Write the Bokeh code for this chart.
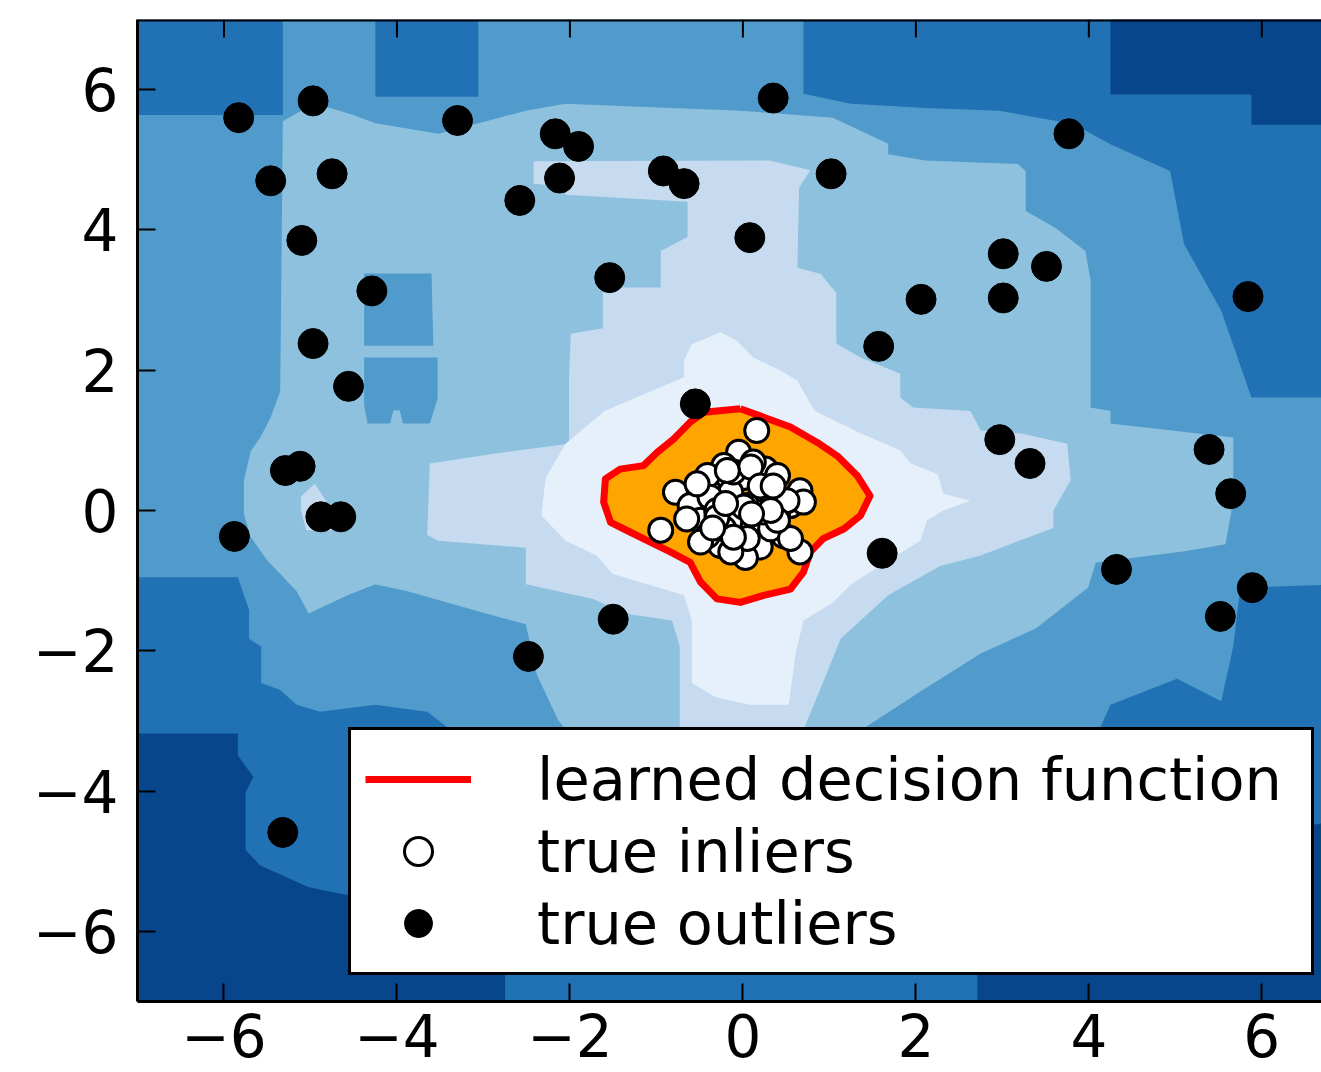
from bokeh.plotting import figure
from bokeh.models import (Range1d, FixedTicker, Legend, LegendItem, ColumnDataSource, Span)
from bokeh.embed import file_html
from bokeh.resources import INLINE

# ---------------- axis ticks ----------------
tick_values = [-6, -4, -2, 0, 2, 4, 6]
tick_labels = ["\u22126", "\u22124", "\u22122", "0", "2", "4", "6"]

# ---------------- colours ----------------
# six anomaly-score bands (Blues_r): 0 = most abnormal (darkest) ... 5 = most normal
band_colors = ["#08468c", "#2171b5", "#509bcb", "#8dc1dd", "#c6dbef", "#e6f0fa"]
inlier_region_color = "#ffa500"
decision_line_color = "#ff0000"

# ---------------- observations ----------------
outliers_x = [-5.83, -4.97, -3.30, 0.35, -2.17, -1.90, -5.46, -4.75, -2.58, -2.12,
              -0.92, -0.68, 1.02, 3.77, -5.10, 0.08, -1.54, -4.29, 3.01, 3.51,
              2.06, 3.01, 5.84, -4.97, 1.57, -4.56, -0.55, 2.97, 3.32, 5.39,
              5.64, -5.29, -5.12, -4.88, -4.65, -5.88, 1.61, 4.32, 5.89, 5.52,
              -1.50, -2.48, -5.32]
outliers_y = [5.60, 5.84, 5.56, 5.88, 5.37, 5.19, 4.70, 4.80, 4.42, 4.74,
              4.84, 4.66, 4.80, 5.37, 3.85, 3.89, 3.32, 3.13, 3.66, 3.48,
              3.01, 3.03, 3.05, 2.38, 2.34, 1.77, 1.52, 1.01, 0.67, 0.87,
              0.24, 0.57, 0.63, -0.09, -0.09, -0.37, -0.61, -0.84, -1.10, -1.51,
              -1.55, -2.08, -4.59]

inliers_x = [0.16, -0.05, 0.26, -0.30, 0.01, -0.78, -0.14, 0.26, 0.66, -0.61,
             -0.34, 0.55, -0.49, -0.07, 0.12, -0.95, 0.47, -0.26, 0.20, 0.66,
             0.03, -0.41, 0.05, 0.40, -0.22, 0.12, -0.41, 0.05, 0.40, -0.49,
             -0.14, 0.32, -0.30, 0.24, -0.22, 0.70, 0.55, -0.65, -0.41, -0.11,
             0.09, -0.38, 0.51, -0.30, 0.01, 0.40, -0.30, -0.11, 0.32, -0.18,
             -0.53, 0.20, -0.20, 0.10, 0.35, -0.35]
inliers_y = [1.14, 0.83, 0.59, 0.50, 0.47, 0.26, 0.26, 0.21, 0.28, 0.07,
             0.12, 0.07, -0.14, -0.17, -0.21, -0.28, -0.36, -0.50, -0.52, -0.59,
             -0.67, -0.36, -0.40, -0.07, 0.64, 0.69, 0.31, 0.07, 0.50, -0.45,
             -0.59, -0.26, -0.02, -0.02, -0.26, 0.12, -0.40, -0.12, 0.50, 0.55,
             0.62, 0.19, 0.14, 0.00, 0.05, -0.14, -0.10, -0.38, 0.00, 0.57,
             0.38, 0.35, 0.10, -0.05, 0.35, -0.25]

# ---------------- level-set regions of the decision function ----------------
band0_top_right = [(4.25, 7.0), (7.0, 7.0), (7.0, 5.5), (5.88, 5.5), (5.88, 5.93), (4.25, 5.93)]
band0_bottom_left = [(-7.0, -3.18), (-5.84, -3.18), (-5.84, -3.49), (-5.66, -3.8), (-5.75, -4.02),
                     (-5.75, -4.84), (-5.58, -5.06), (-5.02, -5.37), (-4.62, -5.47), (-3.8, -5.6),
                     (-2.75, -6.2), (-2.75, -7.0), (-7.0, -7.0)]
band0_bottom_right = [(2.71, -7.0), (2.71, -6.1), (3.5, -5.5), (4.5, -5.0), (6.0, -4.6),
                      (7.0, -4.4), (7.0, -7.0)]
band2_region = [(-7.0, 5.64), (-5.32, 5.64), (-5.32, 7.0), (-4.25, 7.0), (-4.25, 5.9), (-3.06, 5.9),
                (-3.06, 7.0), (0.7, 7.0), (0.7, 5.94), (1.25, 5.8), (2.11, 5.74), (2.96, 5.7),
                (3.82, 5.51), (4.25, 5.22), (4.94, 4.84), (5.1, 3.8), (5.53, 2.85), (5.88, 1.61),
                (7.0, 1.61), (7.0, -1.05), (5.75, -1.1), (5.67, -1.94), (5.53, -2.72), (5.02, -2.4),
                (4.25, -2.77), (4.12, -3.13), (3.0, -3.5), (1.5, -3.8), (0.0, -3.9), (-1.0, -3.8),
                (-2.5, -3.6), (-3.3, -3.4), (-3.43, -3.08), (-3.65, -2.87), (-4.25, -2.77),
                (-4.89, -2.87), (-5.16, -2.77), (-5.35, -2.56), (-5.57, -2.46), (-5.57, -1.94),
                (-5.71, -1.83), (-5.71, -1.42), (-5.84, -0.95), (-7.0, -0.95)]
band3_region = [(-5.32, 5.55), (-5.11, 5.7), (-4.8, 5.75), (-4.53, 5.65), (-4.25, 5.52), (-3.52, 5.37),
                (-2.97, 5.55), (-2.51, 5.7), (-2.05, 5.8), (-0.03, 5.7), (1.04, 5.6), (1.68, 5.23),
                (1.68, 5.08), (2.11, 4.99), (3.18, 4.94), (3.27, 4.84), (3.27, 4.27), (3.61, 4.03),
                (3.96, 3.7), (4.02, 3.28), (4.02, 1.47), (4.25, 1.42), (4.25, 1.24), (5.67, 1.04),
                (5.67, 0.14), (5.58, -0.48), (5.11, -0.58), (4.08, -0.74), (3.99, -1.1), (3.39, -1.68),
                (2.75, -2.04), (2.03, -2.6), (1.43, -3.08), (1.0, -3.45), (0.0, -3.6), (-1.5, -3.5),
                (-2.01, -3.19), (-2.14, -2.98), (-2.38, -2.35), (-2.51, -1.62), (-2.97, -1.47),
                (-3.88, -1.15), (-4.25, -1.05), (-4.57, -1.21), (-5.02, -1.47), (-5.16, -1.15),
                (-5.5, -0.71), (-5.69, -0.38), (-5.77, -0.05), (-5.77, 0.43), (-5.69, 0.85),
                (-5.58, 1.04), (-5.46, 1.33), (-5.35, 1.7)]
band2_island_upper = [(-4.38, 3.38), (-3.6, 3.38), (-3.58, 2.35), (-4.38, 2.35)]
band2_island_lower = [(-4.38, 2.18), (-3.53, 2.18), (-3.53, 1.6), (-3.62, 1.24), (-3.93, 1.24),
                      (-3.97, 1.43), (-4.04, 1.43), (-4.08, 1.24), (-4.34, 1.24), (-4.38, 1.5)]
band4_region = [(-2.42, 4.98), (0.31, 4.99), (0.78, 4.85), (0.65, 4.6), (0.63, 3.46), (0.9, 3.37),
                (1.08, 3.1), (1.08, 2.38), (1.36, 2.18), (1.82, 1.95), (1.82, 1.61), (1.97, 1.47),
                (2.63, 1.42), (2.75, 1.14), (3.21, 1.1), (3.75, 0.95), (3.79, 0.43), (3.59, 0.0),
                (3.59, -0.25), (2.75, -0.64), (2.28, -0.79), (1.68, -1.21), (1.13, -1.83),
                (0.96, -2.35), (0.7, -3.13), (0.6, -3.4), (-0.65, -3.4), (-0.73, -3.19),
                (-0.73, -1.94), (-0.82, -1.57), (-1.37, -1.47), (-1.73, -1.26), (-2.51, -1.05),
                (-2.51, -0.53), (-3.52, -0.43), (-3.65, -0.35), (-3.62, 0.67), (-2.88, 0.81),
                (-2.01, 0.95), (-2.01, 1.9), (-1.99, 2.52), (-1.62, 2.6), (-1.62, 3.18),
                (-0.95, 3.18), (-0.95, 3.7), (-0.64, 3.9), (-0.64, 4.4), (-2.05, 4.5),
                (-2.05, 4.62), (-2.42, 4.66)]
band4_patch_left = [(-5.11, 0.2), (-4.95, 0.38), (-4.8, 0.1), (-4.75, -0.28), (-5.05, -0.28), (-5.11, 0.0)]
band5_region = [(-0.59, 2.37), (-0.26, 2.54), (-0.07, 2.42), (0.12, 2.18), (0.43, 2.0), (0.63, 1.85),
                (0.83, 1.42), (1.36, 1.1), (1.82, 0.86), (1.94, 0.67), (2.25, 0.52), (2.32, 0.24),
                (2.63, 0.14), (2.32, 0.0), (2.13, -0.14), (2.05, -0.43), (1.25, -1.05), (1.04, -1.31),
                (0.7, -1.57), (0.61, -2.04), (0.53, -2.77), (0.08, -2.77), (-0.32, -2.66),
                (-0.59, -2.46), (-0.59, -1.57), (-0.68, -1.21), (-1.51, -0.9), (-1.69, -0.64),
                (-2.05, -0.43), (-2.33, -0.07), (-2.28, 0.47), (-2.05, 0.95), (-1.6, 1.42),
                (-0.68, 1.9), (-0.68, 2.14)]

# learned decision function (threshold contour)
decision_boundary = [(-0.03, 1.45), (0.24, 1.33), (0.55, 1.19), (0.86, 0.97), (1.09, 0.78), (1.32, 0.5),
                     (1.47, 0.21), (1.36, -0.07), (1.17, -0.26), (0.93, -0.4), (0.78, -0.59),
                     (0.7, -0.88), (0.55, -1.12), (0.24, -1.21), (-0.03, -1.31), (-0.3, -1.26),
                     (-0.49, -1.02), (-0.61, -0.74), (-0.84, -0.59), (-1.07, -0.45), (-1.3, -0.31),
                     (-1.53, -0.17), (-1.61, 0.12), (-1.59, 0.45), (-1.42, 0.59), (-1.15, 0.64),
                     (-0.99, 0.83), (-0.8, 1.02), (-0.61, 1.26), (-0.45, 1.4), (-0.3, 1.42),
                     (-0.03, 1.45)]

regions = [(0, band0_top_right), (0, band0_bottom_left), (0, band0_bottom_right),
           (2, band2_region), (3, band3_region), (2, band2_island_upper), (2, band2_island_lower),
           (4, band4_region), (4, band4_patch_left), (5, band5_region)]

FONT = "DejaVu Sans"
FS = "58px"
X_START, X_END = -7.0, 6.69
Y_START, Y_END = -7.0, 7.0
W, H = 1321, 1072
B_LEFT, B_TOP, B_BOTTOM = 137, 19, 71
TICK_PX = 18

p = figure(width=W, height=H, x_range=Range1d(X_START, X_END), y_range=Range1d(Y_START, Y_END),
           output_backend="svg", toolbar_location=None,
           min_border_left=B_LEFT, min_border_top=B_TOP, min_border_right=0,
           min_border_bottom=B_BOTTOM)
p.background_fill_color = band_colors[1]
p.border_fill_color = "white"
p.outline_line_color = None
p.xgrid.visible = False
p.ygrid.visible = False

region_src = ColumnDataSource(dict(
    xs=[[pt[0] for pt in poly] for _, poly in regions],
    ys=[[pt[1] for pt in poly] for _, poly in regions],
    color=[band_colors[b] for b, _ in regions],
))
p.patches("xs", "ys", source=region_src, fill_color="color", line_color=None)

bx = [pt[0] for pt in decision_boundary]
by = [pt[1] for pt in decision_boundary]
p.patch(bx, by, fill_color=inlier_region_color, line_color=None)
r_line = p.line(bx, by, line_color=decision_line_color, line_width=7, line_join="round")

r_in = p.scatter(inliers_x, inliers_y, size=24, fill_color="white",
                 line_color="black", line_width=3)
r_out = p.scatter(outliers_x, outliers_y, size=30, fill_color="black", line_color="black")

overrides = {v: t for v, t in zip(tick_values, tick_labels)}
for ax in (p.xaxis[0], p.yaxis[0]):
    ax.ticker = FixedTicker(ticks=tick_values)
    ax.axis_line_width = 3
    ax.axis_line_color = "black"
    ax.major_tick_in = TICK_PX
    ax.major_tick_out = 0
    ax.major_tick_line_width = 2
    ax.major_tick_line_color = "black"
    ax.minor_tick_line_color = None
    ax.major_label_overrides = overrides
    ax.major_label_text_font = FONT
    ax.major_label_text_font_size = FS
    ax.major_label_text_color = "black"
p.xaxis[0].major_label_standoff = 12
p.yaxis[0].major_label_standoff = 19

# top frame edge with inward ticks (matplotlib classic style)
p.add_layout(Span(location=Y_END, dimension="width", line_color="black", line_width=4))
frame_h = H - B_TOP - B_BOTTOM
tick_len = TICK_PX * (Y_END - Y_START) / frame_h
p.segment(x0=tick_values, x1=tick_values, y0=[Y_END] * len(tick_values),
          y1=[Y_END - tick_len] * len(tick_values), line_color="black", line_width=2)

legend = Legend(items=[LegendItem(label="learned decision function", renderers=[r_line]),
                       LegendItem(label="true inliers", renderers=[r_in]),
                       LegendItem(label="true outliers", renderers=[r_out])],
                location=(211, 26))
legend.margin = 0
legend.padding = 14
legend.spacing = 2
legend.glyph_width = 106
legend.glyph_height = 70
legend.label_height = 69
legend.label_width = 760
legend.label_standoff = 66
legend.label_text_font = FONT
legend.label_text_font_size = "59px"
legend.label_text_color = "black"
legend.border_line_color = "black"
legend.border_line_alpha = 1.0
legend.border_line_width = 3
legend.background_fill_color = "white"
legend.background_fill_alpha = 1.0
p.add_layout(legend)

open("out.html", "w").write(file_html(p, INLINE))
